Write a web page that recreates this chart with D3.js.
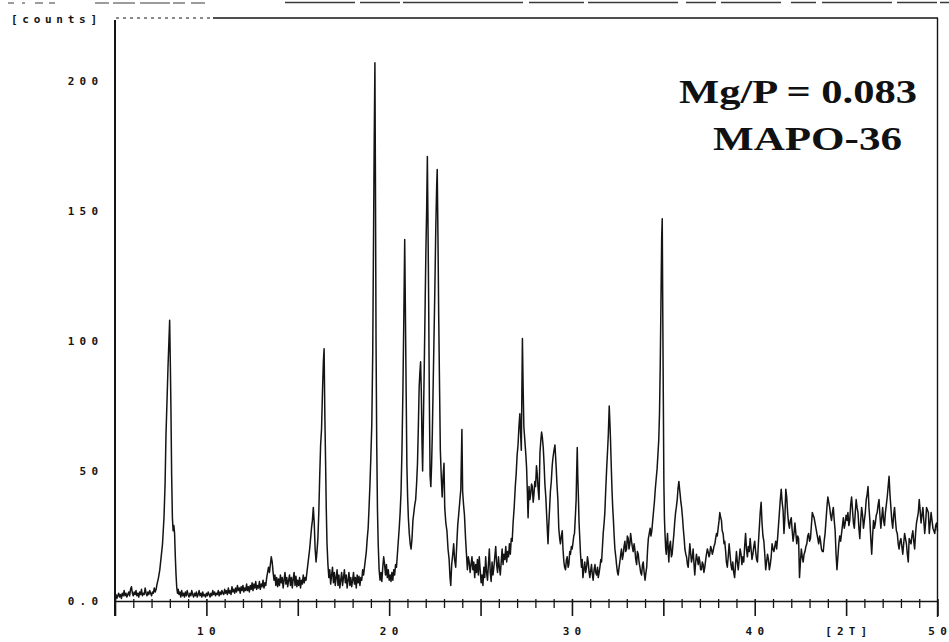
<!DOCTYPE html>
<html>
<head>
<meta charset="utf-8">
<script src="https://cdn.jsdelivr.net/npm/d3@7"></script>
<style>
  html, body { margin: 0; padding: 0; background: #fff; }
  svg { display: block; }
</style>
</head>
<body>
<svg id="chart" width="949" height="642"></svg>
<script>
// Powder XRD scan: [2-theta (deg), counts]
const pattern = [
  [5.00,1.5],[5.05,2.5],[5.10,1.0],[5.15,2.0],[5.20,3.0],[5.25,1.5],[5.30,2.5],[5.35,1.0],[5.40,3.0],[5.45,2.0],
  [5.50,4.0],[5.55,2.0],[5.60,3.0],[5.65,1.5],[5.70,2.5],[5.75,3.5],[5.80,2.0],[5.85,4.5],[5.90,5.5],[5.95,3.0],
  [6.00,2.0],[6.05,3.5],[6.10,2.5],[6.15,4.0],[6.20,2.0],[6.25,3.0],[6.30,1.5],[6.35,3.5],[6.40,2.5],[6.45,4.5],
  [6.50,2.0],[6.55,3.0],[6.60,2.5],[6.65,5.0],[6.70,3.0],[6.75,2.0],[6.80,3.5],[6.85,2.5],[6.90,4.0],[6.95,3.0],
  [7.00,2.0],[7.05,3.5],[7.10,3.0],[7.15,5.0],[7.20,3.5],[7.25,4.5],[7.30,6.5],
  [7.38,9],[7.45,12],[7.52,16.6],[7.60,22],[7.68,32],[7.74,45],[7.79,64],[7.85,78],[7.90,90],[7.95,100],
  [7.99,108],[8.03,90],[8.06,74],[8.10,48],[8.14,32],[8.18,27],[8.22,29],[8.26,26],[8.30,17],[8.34,10],
  [8.38,5],[8.42,3],[8.46,4.5],[8.50,2.5],[8.55,3.5],[8.60,1.5],[8.65,4.0],[8.70,2.0],[8.75,3.0],[8.80,1.5],
  [8.85,3.5],[8.90,2.0],[8.95,4.0],[9.00,2.5],[9.05,1.5],[9.10,3.0],[9.15,2.0],[9.20,4.0],[9.25,2.5],[9.30,1.5],
  [9.35,3.0],[9.40,2.0],[9.45,3.5],[9.50,1.5],[9.55,2.5],[9.60,4.0],[9.65,2.0],[9.70,3.0],[9.75,1.5],[9.80,3.5],
  [9.85,2.0],[9.90,2.5],[9.95,1.5],[10.00,3.0],[10.05,2.0],[10.10,3.5],[10.15,2.5],[10.20,1.5],[10.25,3.0],[10.30,2.0],
  [10.35,4.0],[10.40,2.5],[10.45,3.5],[10.50,2.0],[10.55,3.0],[10.60,2.5],[10.65,4.0],[10.70,2.0],[10.75,3.5],[10.80,2.5],
  [10.85,4.0],[10.90,3.0],[10.95,2.5],[11.00,4.5],[11.05,3.0],[11.10,4.0],[11.15,2.5],[11.20,5.0],[11.25,3.0],[11.30,4.0],
  [11.35,2.5],[11.40,5.5],[11.45,3.5],[11.50,4.5],[11.55,3.0],[11.60,5.0],[11.65,3.5],[11.70,6.0],[11.75,4.0],[11.80,5.0],
  [11.85,3.0],[11.90,5.5],[11.95,4.0],[12.00,6.0],[12.05,3.5],[12.10,5.0],[12.15,4.0],[12.20,6.5],[12.25,4.0],[12.30,5.5],
  [12.35,3.5],[12.40,6.0],[12.45,4.5],[12.50,7.0],[12.55,4.0],[12.60,6.5],[12.65,5.0],[12.70,7.5],[12.75,4.5],[12.80,6.0],
  [12.85,5.0],[12.90,7.5],[12.95,4.5],[13.00,6.5],[13.05,5.5],[13.10,8.0],[13.15,5.0],[13.20,7.0],[13.25,6.0],[13.30,9.0],
  [13.35,11],[13.40,13],[13.45,11],[13.50,14],[13.55,17],[13.60,15],[13.65,11],[13.70,8],[13.75,10],[13.80,6],
  [13.85,9],[13.90,5.5],[13.95,8.5],[14.00,6],[14.05,10],[14.10,7],[14.15,9],[14.20,5],[14.25,8],[14.30,11],
  [14.35,6.5],[14.40,9],[14.45,5.5],[14.50,8],[14.55,10],[14.60,6],[14.65,9],[14.70,5],[14.75,8.5],[14.80,11],
  [14.85,6],[14.90,9.5],[14.95,5.5],[15.00,8],[15.05,6],[15.10,9],[15.15,5],[15.20,8],[15.25,6.5],[15.30,10],
  [15.35,7],[15.40,9],[15.45,8],[15.50,11],[15.55,14],[15.60,17],[15.65,20],[15.70,24],[15.75,28],[15.80,31],
  [15.85,36],[15.90,30],[15.95,20],[16.00,15],[16.05,19],[16.10,24],[16.15,34],[16.20,48],[16.25,60],[16.30,66],
  [16.35,80],[16.40,92],[16.44,97],[16.48,72],[16.52,54],[16.56,35],[16.60,22],[16.65,14],[16.70,9],[16.75,12],
  [16.80,6.5],[16.85,10],[16.90,13],[16.95,7],[17.00,11],[17.05,6],[17.10,9],[17.15,12],[17.20,6],[17.25,10],
  [17.30,5],[17.35,8],[17.40,11],[17.45,6],[17.50,9],[17.55,12],[17.60,7],[17.65,10],[17.70,5],[17.75,8],
  [17.80,11],[17.85,6],[17.90,9],[17.95,5.5],[18.00,8],[18.05,11],[18.10,6.5],[18.15,9],[18.20,5],[18.25,10],
  [18.30,7],[18.35,9.5],[18.40,6],[18.45,9],[18.50,8],[18.55,12],[18.60,10],[18.65,13],[18.70,16],[18.75,19],
  [18.80,24],[18.85,28],[18.90,36],[18.95,45],[19.00,56],[19.05,68],[19.10,95],[19.14,135],[19.18,175],[19.22,207],
  [19.25,160],[19.28,102],[19.32,60],[19.36,35],[19.40,22],[19.45,12],[19.50,8],[19.55,11],[19.60,7.5],[19.65,13],
  [19.70,17],[19.75,14],[19.80,10],[19.85,14],[19.90,9],[19.95,12],[20.00,8],[20.05,10],[20.10,7.5],[20.15,11],
  [20.20,8],[20.25,12],[20.30,10],[20.35,14],[20.40,13],[20.45,18],[20.50,23],[20.55,28],[20.60,34],[20.65,42],
  [20.70,58],[20.75,80],[20.80,108],[20.85,139],[20.89,110],[20.93,80],[20.97,52],[21.01,40],[21.05,32],[21.10,26],
  [21.15,22],[21.20,20],[21.25,24],[21.30,31],[21.35,34],[21.40,37],[21.45,39],[21.50,45],[21.55,53],[21.60,68],
  [21.64,82],[21.68,88],[21.72,92],[21.76,80],[21.80,60],[21.83,50],[21.87,68],[21.92,90],[21.97,115],[22.01,135],
  [22.05,150],[22.09,171],[22.13,140],[22.16,116],[22.20,77],[22.24,48],[22.28,44],[22.32,52],[22.36,64],[22.40,80],
  [22.45,100],[22.50,120],[22.55,143],[22.60,160],[22.63,166],[22.67,140],[22.71,110],[22.75,86],[22.80,58],[22.85,48],
  [22.90,40],[22.95,48],[23.00,53],[23.04,36],[23.10,30],[23.16,27],[23.22,20],[23.28,16],[23.33,9],[23.37,6],
  [23.42,14],[23.48,18],[23.53,22],[23.58,16],[23.64,13],[23.70,22],[23.75,29],[23.80,33],[23.86,38],[23.92,43],
  [23.98,66],[24.02,42],[24.07,37],[24.12,33],[24.18,24],[24.23,18],[24.28,12],[24.33,17],[24.38,15],[24.43,11],
  [24.48,14],[24.53,17],[24.58,12],[24.63,15],[24.68,9],[24.73,14],[24.78,11],[24.83,16],[24.88,10],[24.93,17],
  [24.98,12],[25.03,7],[25.08,10],[25.13,6],[25.18,13],[25.23,9],[25.28,17],[25.33,11],[25.38,8],[25.43,14],
  [25.48,20],[25.53,11],[25.58,7.5],[25.63,15],[25.68,10],[25.73,13],[25.78,17],[25.83,21],[25.88,14],[25.93,11],
  [25.98,17],[26.03,13],[26.08,10],[26.13,15],[26.18,20],[26.23,14],[26.28,18],[26.33,16],[26.38,21],[26.43,15],
  [26.48,19],[26.53,17],[26.58,22],[26.63,18],[26.68,24],[26.73,23],[26.78,30],[26.84,36],[26.90,44],[26.95,49],
  [27.00,56],[27.05,60],[27.10,67],[27.15,72],[27.20,63],[27.23,58],[27.26,80],[27.29,101],[27.33,82],[27.37,67],
  [27.40,64],[27.43,61],[27.48,56],[27.52,51],[27.56,42],[27.60,32],[27.65,44],[27.70,39],[27.74,41],[27.79,45],
  [27.83,44],[27.88,38],[27.92,41],[27.97,46],[28.01,44],[28.06,52],[28.10,49],[28.15,43],[28.20,39],[28.25,57],
  [28.30,62],[28.34,65],[28.38,63],[28.43,59],[28.48,52],[28.52,45],[28.57,40],[28.61,34],[28.65,28],[28.69,22],
  [28.73,29],[28.78,36],[28.82,42],[28.87,46],[28.92,52],[28.96,55],[29.02,58],[29.07,60],[29.11,55],[29.14,51],
  [29.18,45],[29.23,39],[29.28,28],[29.33,24],[29.37,22],[29.42,25],[29.47,27],[29.51,20],[29.56,15],[29.60,13],
  [29.65,12],[29.70,16],[29.74,17],[29.79,13],[29.83,14],[29.88,19],[29.92,18],[29.97,21],[30.01,20],[30.05,22],
  [30.10,25],[30.14,26],[30.19,33],[30.23,39],[30.26,50],[30.29,59],[30.32,48],[30.35,41],[30.39,30],[30.43,24],
  [30.47,18],[30.52,13],[30.56,16],[30.60,9],[30.65,12],[30.70,15],[30.75,11],[30.80,13],[30.85,17],[30.89,15],
  [30.94,11],[30.98,9],[31.03,12],[31.07,14],[31.12,10],[31.16,8],[31.21,12],[31.26,14],[31.30,11],[31.35,10],
  [31.40,13],[31.44,9],[31.49,11],[31.53,13],[31.58,16],[31.62,15],[31.67,21],[31.71,26],[31.76,30],[31.80,34],
  [31.85,43],[31.90,51],[31.95,58],[31.99,64],[32.04,75],[32.08,68],[32.11,62],[32.15,52],[32.19,43],[32.23,36],
  [32.27,31],[32.31,25],[32.35,20],[32.40,17],[32.44,14],[32.49,11],[32.53,10],[32.58,13],[32.62,15],[32.67,18],
  [32.71,20],[32.76,16],[32.81,18],[32.85,21],[32.90,23],[32.94,19],[32.99,20],[33.03,25],[33.08,24],[33.12,20],
  [33.17,22],[33.21,26],[33.26,23],[33.30,21],[33.35,19],[33.40,22],[33.44,20],[33.49,16],[33.54,14],[33.58,19],
  [33.63,18],[33.67,15],[33.72,13],[33.76,11],[33.81,10],[33.86,14],[33.90,15],[33.95,11],[34.00,8],[34.05,11],
  [34.09,13],[34.14,20],[34.18,24],[34.23,26],[34.28,28],[34.32,25],[34.37,27],[34.42,31],[34.47,35],[34.51,38],
  [34.56,43],[34.61,47],[34.66,51],[34.71,57],[34.75,62],[34.79,72],[34.83,90],[34.87,115],[34.91,140],[34.94,147],
  [34.97,110],[35.00,77],[35.03,45],[35.06,32],[35.09,26],[35.13,20],[35.16,18],[35.20,23],[35.23,26],[35.27,19],
  [35.30,15],[35.34,21],[35.39,23],[35.44,17],[35.48,18],[35.53,22],[35.58,26],[35.62,30],[35.67,34],[35.71,36],
  [35.76,39],[35.80,43],[35.85,46],[35.89,43],[35.92,41],[35.96,38],[36.00,36],[36.05,32],[36.09,28],[36.14,24],
  [36.18,20],[36.23,18],[36.27,17],[36.32,14],[36.36,13],[36.41,18],[36.45,22],[36.50,18],[36.54,15],[36.59,17],
  [36.63,20],[36.68,14],[36.72,10],[36.77,15],[36.81,18],[36.86,16],[36.91,14],[36.95,17],[37.00,15],[37.04,12],
  [37.09,12],[37.13,15],[37.18,14],[37.22,11],[37.27,13],[37.32,16],[37.36,18],[37.41,20],[37.45,19],[37.50,17],
  [37.54,18],[37.59,21],[37.63,20],[37.68,18],[37.72,19],[37.77,21],[37.82,22],[37.86,24],[37.91,26],[37.95,25],
  [38.00,28],[38.05,31],[38.09,34],[38.14,32],[38.18,31],[38.22,27],[38.27,26],[38.32,22],[38.36,23],[38.41,19],
  [38.45,15],[38.50,13],[38.55,17],[38.60,22],[38.65,18],[38.70,14],[38.75,12],[38.80,15],[38.85,11],[38.90,9],
  [38.95,14],[39.00,19],[39.05,15],[39.10,12],[39.15,16],[39.20,20],[39.25,18],[39.30,14],[39.35,17],[39.40,15],
  [39.45,21],[39.50,26],[39.55,20],[39.60,17],[39.65,21],[39.70,19],[39.75,24],[39.80,20],[39.85,16],[39.90,18],
  [39.95,21],[40.00,23],[40.05,19],[40.10,16],[40.15,15],[40.20,22],[40.25,28],[40.30,34],[40.35,38],[40.40,30],
  [40.45,25],[40.50,23],[40.55,18],[40.60,12],[40.65,15],[40.70,18],[40.75,16],[40.80,12],[40.85,14],[40.90,17],
  [40.95,22],[41.00,20],[41.05,19],[41.10,21],[41.15,23],[41.20,20],[41.25,24],[41.30,29],[41.35,34],[41.40,39],
  [41.45,43],[41.50,38],[41.55,35],[41.60,26],[41.65,32],[41.70,43],[41.75,40],[41.80,34],[41.85,30],[41.90,28],
  [41.95,31],[42.00,32],[42.05,27],[42.10,23],[42.15,26],[42.20,30],[42.25,26],[42.30,22],[42.35,25],[42.40,24],
  [42.45,9],[42.50,15],[42.55,20],[42.60,17],[42.65,15],[42.70,18],[42.75,19],[42.80,21],[42.85,22],[42.90,25],
  [42.95,26],[43.00,23],[43.05,24],[43.10,29],[43.15,34],[43.20,33],[43.25,32],[43.30,30],[43.35,28],[43.40,26],
  [43.45,24],[43.50,22],[43.55,25],[43.60,23],[43.65,20],[43.70,19],[43.75,19],[43.80,23],[43.85,26],[43.90,31],
  [43.95,36],[44.00,40],[44.05,38],[44.10,36],[44.15,33],[44.20,31],[44.25,34],[44.30,36],[44.35,31],[44.40,27],
  [44.45,18],[44.50,12],[44.55,17],[44.60,22],[44.65,25],[44.70,23],[44.75,26],[44.80,29],[44.85,32],[44.90,28],
  [44.95,30],[45.00,33],[45.05,31],[45.10,34],[45.15,29],[45.20,31],[45.25,37],[45.30,40],[45.35,35],[45.40,30],
  [45.45,28],[45.50,34],[45.55,39],[45.60,36],[45.65,34],[45.70,28],[45.75,24],[45.80,31],[45.85,36],[45.90,33],
  [45.95,28],[46.00,31],[46.05,34],[46.10,39],[46.15,41],[46.20,44],[46.25,36],[46.30,31],[46.35,24],[46.40,18],
  [46.45,25],[46.50,31],[46.55,28],[46.60,30],[46.65,33],[46.70,34],[46.75,37],[46.80,39],[46.85,33],[46.90,28],
  [46.95,32],[47.00,36],[47.05,31],[47.10,29],[47.15,34],[47.20,37],[47.25,40],[47.30,44],[47.35,48],[47.40,41],
  [47.45,36],[47.50,31],[47.55,28],[47.60,33],[47.65,36],[47.70,31],[47.75,27],[47.80,26],[47.85,22],[47.90,20],
  [47.95,23],[48.00,24],[48.05,21],[48.10,18],[48.15,22],[48.20,26],[48.25,24],[48.30,22],[48.35,18],[48.40,15],
  [48.45,24],[48.50,23],[48.55,22],[48.60,25],[48.65,27],[48.70,23],[48.75,20],[48.80,26],[48.85,30],[48.90,32],
  [48.95,34],[49.00,39],[49.05,35],[49.10,30],[49.15,33],[49.20,36],[49.25,31],[49.30,26],[49.35,30],[49.40,36],
  [49.45,35],[49.50,34],[49.55,26],[49.60,30],[49.65,34],[49.70,31],[49.75,28],[49.80,27],[49.85,26],[49.90,29],
  [49.95,30],[50.00,27]
];

const yTickValues = [0, 50, 100, 150, 200];
const yTickLabels = ["0.0", "50", "100", "150", "200"];
const xMinorTicks = [6,7,8,9,11,12,13,14,16,17,18,19,21,22,23,24,26,27,28,29,31,32,33,34,36,37,38,39,41,42,43,44,46,47,48,49];
const xMajorTicks = [5, 10, 15, 20, 25, 30, 35, 40, 45, 50];
const xLabelValues = [10, 20, 30, 40, 45, 50];
const xLabelTexts = ["10", "20", "30", "40", "[2T]", "50"];
const yUnitLabel = "[counts]";
const noteLines = ["Mg/P = 0.083", "MAPO-36"];

const svg = d3.select("#chart");
const ink = "#141414";
const monoFont = "'DejaVu Sans Mono', 'Liberation Mono', monospace";

const x = d3.scaleLinear().domain([5, 50]).range([115, 937.5]);
const y = d3.scaleLinear().domain([0, 200]).range([601, 81]);
const yTop = 18;

// spaced-out printer style label: glyphs spread across a fixed width
function spreadWidth(str) {
  return str.length <= 1 ? 7 : 7 + (str.length - 1) * 11.6;
}

// stray print line along the very top edge
const strip = svg.append("g").attr("stroke", "#3a3a3a").attr("fill", "none");
strip.append("line").attr("x1", 8).attr("x2", 60).attr("y1", 3).attr("y2", 3)
  .attr("stroke-width", 1.2).attr("stroke-dasharray", "6,8,3,10,8,6");
strip.append("line").attr("x1", 95).attr("x2", 205).attr("y1", 3).attr("y2", 3)
  .attr("stroke-width", 1.2).attr("stroke-dasharray", "14,4,22,5,30,3,12,6");
strip.append("line").attr("x1", 285).attr("x2", 949).attr("y1", 2.5).attr("y2", 2.5)
  .attr("stroke-width", 1.6).attr("stroke-dasharray", "70,5,40,3,120,6,55,4,90,8,30,5,60,10,25,6");

// plot frame
svg.append("line").attr("x1", 115).attr("x2", 115).attr("y1", 20).attr("y2", 616)
  .attr("stroke", ink).attr("stroke-width", 2);
svg.append("line").attr("x1", 937.5).attr("x2", 937.5).attr("y1", yTop).attr("y2", 617)
  .attr("stroke", ink).attr("stroke-width", 1.4);
svg.append("line").attr("x1", 116).attr("x2", 213).attr("y1", yTop).attr("y2", yTop)
  .attr("stroke", ink).attr("stroke-width", 1).attr("stroke-dasharray", "3,4");
svg.append("line").attr("x1", 213).attr("x2", 938).attr("y1", yTop).attr("y2", yTop)
  .attr("stroke", ink).attr("stroke-width", 1.4);

// x axis: minor and major ticks
const minorAxis = d3.axisBottom(x).tickValues(xMinorTicks).tickSize(7).tickSizeOuter(0).tickFormat("");
const gMinor = svg.append("g").attr("transform", `translate(0,${y(0)})`).call(minorAxis);
gMinor.select(".domain").attr("stroke", ink).attr("stroke-width", 1.5);
gMinor.selectAll(".tick line").attr("stroke", ink).attr("stroke-width", 1.3).attr("y1", -2);

const majorAxis = d3.axisBottom(x).tickValues(xMajorTicks).tickSize(15).tickSizeOuter(0).tickFormat("");
const gMajor = svg.append("g").attr("transform", `translate(0,${y(0)})`).call(majorAxis);
gMajor.select(".domain").remove();
gMajor.selectAll(".tick line").attr("stroke", ink).attr("stroke-width", 1.6).attr("y1", -2);

const labelStyle = sel => sel
  .attr("font-family", monoFont)
  .attr("font-weight", "bold")
  .attr("font-size", 11)
  .attr("lengthAdjust", "spacing")
  .attr("fill", ink);

// x labels
svg.append("g").selectAll("text").data(xLabelValues).join("text")
  .attr("x", d => x(d))
  .attr("y", 635)
  .attr("text-anchor", "middle")
  .attr("textLength", (d, i) => spreadWidth(xLabelTexts[i]))
  .call(labelStyle)
  .text((d, i) => xLabelTexts[i]);

// y labels
svg.append("g").selectAll("text").data(yTickValues).join("text")
  .attr("x", 98)
  .attr("y", d => y(d) + 4)
  .attr("text-anchor", "end")
  .attr("textLength", (d, i) => spreadWidth(yTickLabels[i]))
  .call(labelStyle)
  .text((d, i) => yTickLabels[i]);

svg.append("text")
  .attr("x", 11).attr("y", 23)
  .attr("textLength", 86)
  .call(labelStyle)
  .text(yUnitLabel);

// diffraction trace
const line = d3.line()
  .x(d => x(d[0]))
  .y(d => y(d[1]));
svg.append("path")
  .datum(pattern)
  .attr("fill", "none")
  .attr("stroke", ink)
  .attr("stroke-width", 1.5)
  .attr("stroke-linejoin", "round")
  .attr("d", line);

// sample annotation
const noteX = [679, 713];
const noteY = [103, 150];
const noteW = [238, 189];
svg.append("g").selectAll("text").data(noteLines).join("text")
  .attr("x", (d, i) => noteX[i])
  .attr("y", (d, i) => noteY[i])
  .attr("textLength", (d, i) => noteW[i])
  .attr("lengthAdjust", "spacingAndGlyphs")
  .attr("font-family", "'Liberation Serif', 'Times New Roman', serif")
  .attr("font-weight", "bold")
  .attr("font-size", 34)
  .attr("fill", "#111")
  .text(d => d);
</script>
</body>
</html>
